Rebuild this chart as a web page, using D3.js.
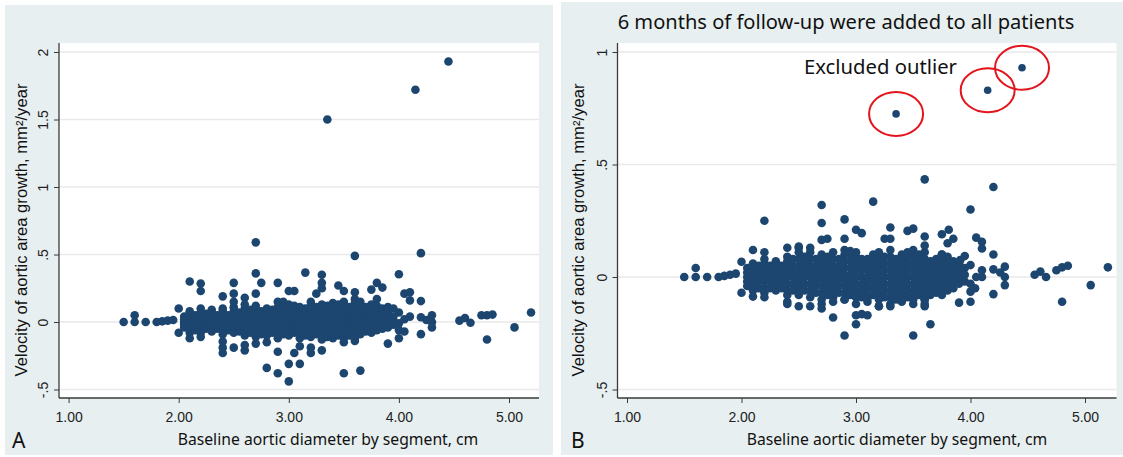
<!DOCTYPE html>
<html><head><meta charset="utf-8">
<script src="https://cdn.jsdelivr.net/npm/d3@7"></script>
<style>body{margin:0;background:#fff}</style>
</head><body><svg id="c" width="1123" height="457"></svg>
<script>
// ---------- data ----------
const xTickValues = [1, 2, 3, 4, 5];
const yTicksA = [-0.5, 0, 0.5, 1, 1.5, 2];
const yTicksB = [-0.5, 0, 0.5, 1];
const xTitle = "Baseline aortic diameter by segment, cm";
const yTitle = "Velocity of aortic area growth, mm²/year";
const titleB = "6 months of follow-up were added to all patients";
const annotationB = "Excluded outlier";

// Panel A: dense band, columns of diameters with their growth values
const bandA = [
  [2.05, [-0.04, -0.02, 0, 0.02, 0.04]],
  [2.1, [-0.08, -0.05, -0.03, 0, 0.02, 0.04, 0.06, 0.08]],
  [2.15, [-0.06, -0.03, 0, 0.03, 0.05]],
  [2.2, [-0.08, -0.06, -0.03, 0, 0.02, 0.04, 0.07, 0.1]],
  [2.25, [-0.05, -0.02, 0.01, 0.03, 0.06]],
  [2.3, [-0.07, -0.04, -0.01, 0.01, 0.04, 0.07, 0.09]],
  [2.35, [-0.05, -0.02, 0, 0.03, 0.05]],
  [2.4, [-0.09, -0.06, -0.03, 0, 0.02, 0.05, 0.08, 0.1]],
  [2.45, [-0.06, -0.03, 0, 0.02, 0.05]],
  [2.5, [-0.08, -0.05, -0.02, 0, 0.03, 0.05, 0.08, 0.11]],
  [2.55, [-0.07, -0.04, -0.01, 0.02, 0.04, 0.07]],
  [2.6, [-0.1, -0.07, -0.04, -0.01, 0.01, 0.04, 0.07, 0.1, 0.13]],
  [2.65, [-0.08, -0.05, -0.02, 0.01, 0.03, 0.06, 0.09]],
  [2.7, [-0.11, -0.08, -0.05, -0.02, 0, 0.03, 0.06, 0.09, 0.12]],
  [2.75, [-0.09, -0.06, -0.03, 0, 0.02, 0.05, 0.08]],
  [2.8, [-0.1, -0.07, -0.04, -0.01, 0.01, 0.04, 0.07, 0.1]],
  [2.85, [-0.08, -0.05, -0.02, 0.01, 0.03, 0.06, 0.09]],
  [2.9, [-0.12, -0.09, -0.06, -0.03, 0, 0.02, 0.05, 0.08, 0.11]],
  [2.95, [-0.09, -0.06, -0.03, 0, 0.02, 0.05, 0.08, 0.12]],
  [3.0, [-0.1, -0.07, -0.04, -0.02, 0, 0.03, 0.05, 0.08, 0.11, 0.13]],
  [3.05, [-0.08, -0.05, -0.02, 0.01, 0.04, 0.07, 0.1, 0.12]],
  [3.1, [-0.12, -0.09, -0.06, -0.03, 0, 0.02, 0.05, 0.08, 0.11]],
  [3.15, [-0.1, -0.07, -0.04, -0.01, 0.02, 0.04, 0.07, 0.1]],
  [3.2, [-0.11, -0.08, -0.05, -0.02, 0, 0.03, 0.06, 0.09, 0.12]],
  [3.25, [-0.09, -0.06, -0.03, 0, 0.02, 0.05, 0.08, 0.11]],
  [3.3, [-0.13, -0.1, -0.07, -0.04, -0.01, 0.01, 0.04, 0.07, 0.1, 0.13]],
  [3.35, [-0.11, -0.08, -0.05, -0.02, 0.01, 0.03, 0.06, 0.09, 0.12]],
  [3.4, [-0.12, -0.09, -0.06, -0.03, 0, 0.02, 0.05, 0.08, 0.11, 0.14]],
  [3.45, [-0.1, -0.07, -0.04, -0.01, 0.02, 0.04, 0.07, 0.1, 0.13]],
  [3.5, [-0.12, -0.09, -0.06, -0.03, 0, 0.03, 0.06, 0.09, 0.12, 0.15]],
  [3.55, [-0.1, -0.07, -0.04, -0.01, 0.02, 0.05, 0.08, 0.11]],
  [3.6, [-0.14, -0.1, -0.07, -0.04, -0.01, 0.02, 0.05, 0.08, 0.11, 0.14]],
  [3.65, [-0.09, -0.06, -0.03, 0, 0.03, 0.06, 0.09, 0.12, 0.15]],
  [3.7, [-0.07, -0.04, -0.01, 0.02, 0.05, 0.08, 0.11]],
  [3.75, [-0.08, -0.05, -0.02, 0.01, 0.04, 0.07, 0.1, 0.13]],
  [3.8, [-0.06, -0.03, 0, 0.03, 0.06, 0.09, 0.12]],
  [3.85, [-0.05, -0.02, 0.01, 0.04, 0.07, 0.1]],
  [3.9, [-0.04, -0.01, 0.02, 0.05, 0.08]],
  [3.95, [-0.02, 0.01, 0.04]]
];
// Panel A: scattered points outside the dense band
const pointsA = [
  [1.5, 0], [1.6, 0.05], [1.6, 0], [1.7, 0], [1.8, 0], [1.85, 0.005], [1.9, 0.01], [1.95, 0.015],
  [2.0, 0.1], [2.0, -0.08], [2.1, 0.3], [2.1, -0.12], [2.2, 0.285], [2.2, 0.23], [2.2, -0.11],
  [2.4, 0.19], [2.4, -0.145], [2.4, -0.19], [2.4, -0.23],
  [2.5, 0.29], [2.5, 0.21], [2.5, 0.15], [2.5, -0.19],
  [2.6, 0.18], [2.6, -0.17], [2.6, -0.21],
  [2.7, 0.59], [2.7, 0.36], [2.7, 0.21], [2.7, -0.16], [2.75, 0.29],
  [2.8, -0.34], [2.8, -0.15],
  [2.9, 0.29], [2.9, 0.15], [2.95, 0.15], [2.9, -0.22], [2.9, -0.38],
  [3.0, 0.23], [3.05, 0.23], [3.0, -0.31], [3.0, -0.44], [3.05, -0.23],
  [3.1, -0.18], [3.1, -0.31], [3.15, 0.366],
  [3.2, 0.15], [3.2, -0.19], [3.2, -0.23], [3.25, 0.21],
  [3.3, 0.35], [3.3, 0.29], [3.3, 0.25], [3.3, -0.21],
  [3.35, 1.5], [3.45, 0.27],
  [3.5, 0.23], [3.5, -0.38], [3.5, -0.15],
  [3.6, 0.49], [3.6, 0.22], [3.6, 0.17], [3.6, -0.12], [3.65, -0.36],
  [3.75, 0.24], [3.8, 0.29], [3.8, 0.17], [3.85, 0.255],
  [3.9, 0.11], [3.95, 0.1], [3.9, -0.16],
  [4.0, 0.354], [4.0, 0.07], [4.0, -0.01], [4.0, -0.06], [4.0, -0.12], [4.05, -0.07],
  [4.05, 0.21], [4.1, 0.22], [4.1, 0.16], [4.1, 0.04], [4.05, 0.02],
  [4.15, 1.72],
  [4.2, 0.51], [4.2, 0.155], [4.2, 0.035], [4.2, -0.09], [4.25, 0.015],
  [4.3, 0.05], [4.3, 0], [4.3, -0.04],
  [4.45, 1.93],
  [4.55, 0.01], [4.6, 0.03], [4.65, -0.005],
  [4.75, 0.05], [4.8, 0.05], [4.85, 0.055], [4.8, -0.13],
  [5.05, -0.04], [5.2, 0.07]
];

// Panel B: dense band
const bandB = [
  [2.05, [-0.04, -0.02, 0, 0.02, 0.04]],
  [2.1, [-0.06, -0.04, -0.02, 0, 0.02, 0.04, 0.06]],
  [2.15, [-0.05, -0.02, 0, 0.02, 0.05]],
  [2.2, [-0.07, -0.05, -0.02, 0, 0.02, 0.04, 0.06]],
  [2.25, [-0.05, -0.02, 0.01, 0.03, 0.05]],
  [2.3, [-0.06, -0.04, -0.01, 0.01, 0.03, 0.06]],
  [2.35, [-0.05, -0.02, 0, 0.02, 0.05]],
  [2.4, [-0.08, -0.06, -0.03, 0, 0.02, 0.04, 0.07, 0.09]],
  [2.45, [-0.06, -0.03, 0, 0.02, 0.05, 0.08]],
  [2.5, [-0.08, -0.05, -0.02, 0, 0.02, 0.05, 0.08, 0.11, 0.13]],
  [2.55, [-0.06, -0.03, 0, 0.03, 0.06, 0.09]],
  [2.6, [-0.09, -0.06, -0.03, 0, 0.02, 0.05, 0.08, 0.11]],
  [2.65, [-0.07, -0.04, -0.01, 0.02, 0.05, 0.08]],
  [2.7, [-0.1, -0.07, -0.04, -0.01, 0.01, 0.04, 0.07, 0.1]],
  [2.75, [-0.08, -0.05, -0.02, 0, 0.03, 0.06, 0.09]],
  [2.8, [-0.09, -0.06, -0.03, 0, 0.02, 0.05, 0.08]],
  [2.85, [-0.07, -0.04, -0.01, 0.02, 0.05, 0.08]],
  [2.9, [-0.1, -0.07, -0.04, -0.01, 0.01, 0.04, 0.07, 0.1, 0.12]],
  [2.95, [-0.08, -0.05, -0.02, 0.01, 0.04, 0.07, 0.1]],
  [3.0, [-0.12, -0.09, -0.06, -0.03, 0, 0.03, 0.06, 0.09, 0.11]],
  [3.05, [-0.09, -0.06, -0.03, 0, 0.03, 0.06, 0.08]],
  [3.1, [-0.11, -0.08, -0.05, -0.02, 0, 0.03, 0.05, 0.08]],
  [3.15, [-0.08, -0.05, -0.02, 0.01, 0.04, 0.07, 0.1]],
  [3.2, [-0.13, -0.1, -0.07, -0.04, -0.01, 0.02, 0.05, 0.08, 0.11]],
  [3.25, [-0.09, -0.06, -0.03, 0, 0.03, 0.06, 0.09]],
  [3.3, [-0.12, -0.09, -0.06, -0.03, 0, 0.03, 0.06, 0.09, 0.12]],
  [3.35, [-0.1, -0.07, -0.04, -0.01, 0.02, 0.05, 0.08]],
  [3.4, [-0.11, -0.08, -0.05, -0.02, 0.01, 0.04, 0.07, 0.1]],
  [3.45, [-0.09, -0.06, -0.03, 0, 0.03, 0.06, 0.09, 0.11]],
  [3.5, [-0.12, -0.09, -0.06, -0.03, 0, 0.03, 0.06, 0.09, 0.12]],
  [3.55, [-0.08, -0.05, -0.02, 0.01, 0.04, 0.07, 0.1]],
  [3.6, [-0.13, -0.1, -0.07, -0.04, -0.01, 0.02, 0.05, 0.08, 0.11]],
  [3.65, [-0.08, -0.05, -0.02, 0.01, 0.04, 0.07]],
  [3.7, [-0.07, -0.04, -0.01, 0.02, 0.05, 0.08]],
  [3.75, [-0.08, -0.05, -0.02, 0.01, 0.04, 0.07, 0.1]],
  [3.8, [-0.06, -0.03, 0, 0.03, 0.06, 0.09]],
  [3.85, [-0.05, -0.02, 0.01, 0.04, 0.07]],
  [3.9, [-0.03, 0, 0.03, 0.06]],
  [3.95, [-0.02, 0.01, 0.04]]
];
// Panel B: scattered points outside the dense band
const pointsB = [
  [1.5, 0], [1.6, 0.04], [1.6, 0], [1.7, 0], [1.8, 0], [1.85, 0.005], [1.9, 0.01], [1.95, 0.015],
  [2.0, 0.068], [2.0, -0.07], [2.1, 0.12], [2.1, -0.087],
  [2.2, 0.25], [2.2, 0.11], [2.2, 0.08], [2.2, -0.09],
  [2.3, 0.07], [2.4, 0.13], [2.4, -0.11], [2.4, -0.12],
  [2.5, -0.13], [2.5, 0.135], [2.6, 0.13], [2.6, -0.13],
  [2.7, 0.32], [2.7, 0.24], [2.7, 0.165], [2.75, 0.17], [2.7, -0.12], [2.7, -0.14],
  [2.8, 0.11], [2.8, -0.11], [2.8, -0.18],
  [2.9, 0.256], [2.9, 0.17], [2.9, -0.1], [2.9, -0.26], [2.95, 0.115],
  [3.0, 0.21], [3.05, 0.195], [3.0, -0.17], [3.05, -0.165], [3.1, -0.17], [3.0, -0.21], [3.1, -0.095],
  [3.15, 0.335], [3.2, -0.13],
  [3.25, 0.17], [3.3, 0.17], [3.3, 0.22], [3.3, -0.13],
  [3.45, 0.205], [3.5, 0.215], [3.5, -0.26], [3.5, -0.1],
  [3.6, 0.434], [3.6, 0.18], [3.6, 0.14], [3.6, -0.1], [3.6, -0.12], [3.65, -0.21],
  [3.75, 0.19], [3.81, 0.21], [3.85, 0.17], [3.8, 0.15], [3.75, 0.1],
  [3.91, 0.075], [3.95, 0.093], [3.9, -0.114],
  [4.0, 0.3], [4.0, 0.053], [4.0, -0.03], [4.0, -0.065], [4.0, -0.11], [4.04, -0.05],
  [4.05, 0.175], [4.1, 0.157], [4.1, 0.127], [4.1, 0.03], [4.1, 0], [4.05, 0],
  [4.2, 0.4], [4.2, 0.1], [4.2, 0.034], [4.2, -0.076], [4.26, 0.02],
  [4.3, 0.046], [4.3, 0], [4.3, -0.036],
  [4.56, 0.01], [4.61, 0.024], [4.66, 0],
  [4.75, 0.03], [4.8, 0.043], [4.85, 0.05], [4.8, -0.11],
  [5.05, -0.036], [5.2, 0.043]
];
// Panel B: the three excluded outliers (circled)
const excludedB = [[3.35, 0.725], [4.15, 0.83], [4.45, 0.93]];

// ---------- drawing ----------
const svg = d3.select("#c");
const DOT = "#1c4670", BG = "#e7eff0", GRID = "#e9e9e9", AX = "#3a3a3a";
const R = 4.3;

function flatten(band) {
  const out = [];
  band.forEach(([x, ys]) => ys.forEach(y => out.push([x, y])));
  return out;
}
function fmtY(d) { return d === 0 ? "0" : String(d).replace("0.", "."); }
function fit(sel, target) {
  const w = sel.node().getComputedTextLength();
  const fs = parseFloat(sel.attr("font-size"));
  sel.attr("font-size", fs * target / w);
}

function panel(cfg) {
  const g = svg.append("g");
  g.append("rect").attr("x", cfg.bg[0]).attr("y", cfg.bg[1]).attr("width", cfg.bg[2]).attr("height", cfg.bg[3]).attr("fill", BG);
  const [pl, pt, pr, pb] = cfg.plot;
  g.append("rect").attr("x", pl).attr("y", pt).attr("width", pr - pl).attr("height", pb - pt).attr("fill", "#fff");
  const x = d3.scaleLinear().domain([1, 5]).range(cfg.xr);
  const y = d3.scaleLinear().domain(cfg.yd).range(cfg.yr);

  g.selectAll(".grid").data(cfg.yticks).join("line")
    .attr("x1", pl).attr("x2", pr).attr("y1", d => y(d)).attr("y2", d => y(d))
    .attr("stroke", GRID).attr("stroke-width", 1.5);

  const pts = flatten(cfg.band).concat(cfg.points);
  g.selectAll(".pt").data(pts).join("circle")
    .attr("cx", d => x(d[0])).attr("cy", d => y(d[1])).attr("r", R).attr("fill", DOT);

  const xa = g.append("g").attr("transform", `translate(0,${pb})`)
    .call(d3.axisBottom(x).tickValues(xTickValues).tickFormat(d3.format(".2f")).tickSize(5).tickSizeOuter(0));
  xa.select(".domain").attr("d", `M${pl},0H${pr}`).attr("stroke", AX).attr("stroke-width", 1.3);
  xa.selectAll(".tick line").attr("stroke", AX);
  xa.selectAll(".tick text").attr("font-family", "Liberation Sans, Arial, sans-serif").attr("font-size", 14)
    .attr("fill", "#222").attr("dy", "0").attr("y", 24);

  const ya = g.append("g").attr("transform", `translate(${pl},0)`)
    .call(d3.axisLeft(y).tickValues(cfg.yticks).tickFormat(fmtY).tickSize(5).tickSizeOuter(0));
  ya.select(".domain").attr("d", `M0,${pt}V${pb}`).attr("stroke", AX).attr("stroke-width", 1.3);
  ya.selectAll(".tick line").attr("stroke", AX);
  ya.selectAll(".tick text").attr("font-family", "Liberation Sans, Arial, sans-serif").attr("font-size", 14)
    .attr("fill", "#222").attr("x", 0).attr("dy", "0")
    .attr("transform", "translate(-11,0) rotate(-90)").attr("text-anchor", "middle");

  const yt = g.append("text").text(yTitle)
    .attr("transform", `translate(${cfg.ytx},230) rotate(-90)`).attr("text-anchor", "middle")
    .attr("dominant-baseline", "central")
    .attr("font-family", "Liberation Sans, Arial, sans-serif").attr("font-size", 14).attr("fill", "#111");
  fit(yt, 293);
  const xt = g.append("text").text(xTitle).attr("x", cfg.xtx).attr("y", 445).attr("text-anchor", "middle")
    .attr("font-family", "Noto Sans, sans-serif").attr("font-size", 15).attr("fill", "#111");
  fit(xt, 301);
  g.append("text").text(cfg.letter).attr("x", cfg.letterX).attr("y", 448)
    .attr("font-family", "Noto Sans, sans-serif").attr("font-size", 21).attr("fill", "#111");
  return { g, x, y };
}

panel({
  bg: [5, 5, 548, 450], plot: [59, 43, 539, 398],
  xr: [68.6, 509], yd: [0, 2], yr: [322, 52], yticks: yTicksA,
  band: bandA, points: pointsA, ytx: 21, xtx: 328, letter: "A", letterX: 12
});
const B = panel({
  bg: [561, 2, 562, 453], plot: [617.5, 43, 1116.5, 398],
  xr: [627, 1085], yd: [0, 1], yr: [277, 52], yticks: yTicksB,
  band: bandB, points: pointsB, ytx: 578, xtx: 897, letter: "B", letterX: 571
});

B.g.selectAll(".ex").data(excludedB).join("circle")
  .attr("cx", d => B.x(d[0])).attr("cy", d => B.y(d[1])).attr("r", 3.8).attr("fill", DOT);
B.g.selectAll(".ring").data(excludedB).join("ellipse")
  .attr("cx", d => B.x(d[0])).attr("cy", d => B.y(d[1])).attr("rx", 27).attr("ry", 22)
  .attr("fill", "none").attr("stroke", "#e3141c").attr("stroke-width", 2);

const tt = B.g.append("text").text(titleB).attr("x", 846).attr("y", 29).attr("text-anchor", "middle")
  .attr("font-family", "Noto Sans, sans-serif").attr("font-size", 19).attr("fill", "#111");
fit(tt, 457);
const at = B.g.append("text").text(annotationB).attr("x", 880.5).attr("y", 74).attr("text-anchor", "middle")
  .attr("font-family", "Noto Sans, sans-serif").attr("font-size", 18).attr("fill", "#111");
fit(at, 153);
</script>
</body></html>
